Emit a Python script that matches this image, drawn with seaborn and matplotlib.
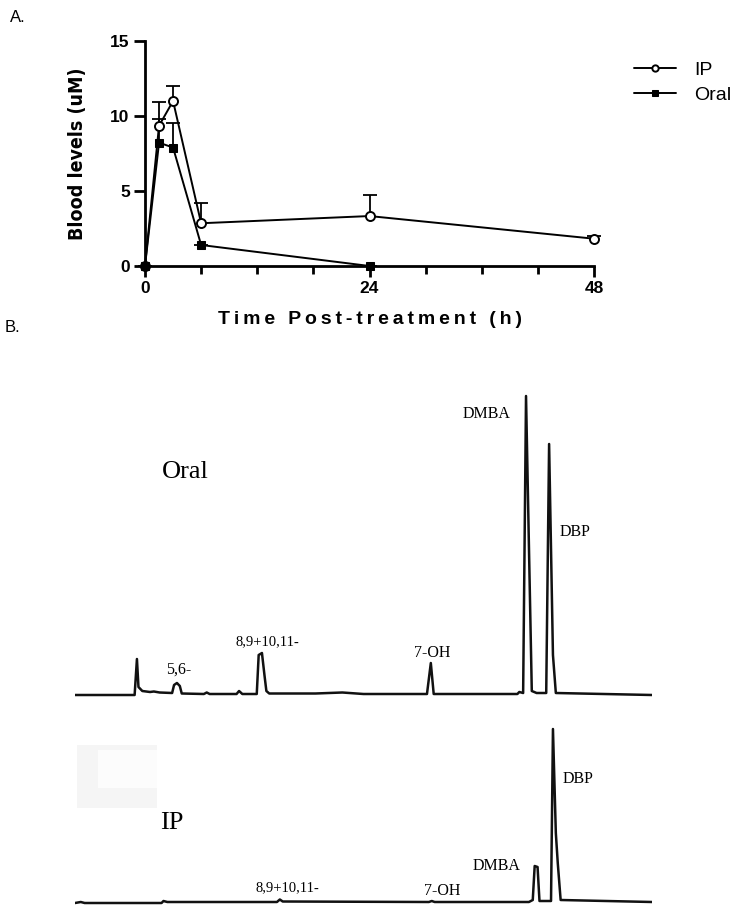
import numpy as np
import pandas as pd
import seaborn as sns
import matplotlib
matplotlib.use("Agg")
import matplotlib.pyplot as plt
from matplotlib import font_manager
from matplotlib.patches import Rectangle

# =====================================================================
# DATOS - Panel A (niveles en sangre, media + error)
# =====================================================================
tiempos = [0, 1.5, 3, 6, 24, 48]
ip_media = [0, 9.35, 11.0, 2.85, 3.33, 1.82]
ip_error = [0, 1.6, 1.0, 1.35, 1.4, 0.18]
oral_tiempos = [0, 1.5, 3, 6, 24]
oral_media = [0, 8.22, 7.9, 1.4, 0]
oral_error = [0, 1.6, 1.65, 0, 0]

# =====================================================================
# DATOS - Panel B (cromatogramas, vertices)
# =====================================================================
oral_t = [0, 3.1, 3.22, 3.3, 3.5, 3.9, 4.1, 4.4, 5.05, 5.15, 5.3, 5.45, 5.55,
          6.7, 6.85, 7.0, 8.4, 8.53, 8.7, 9.45, 9.55, 9.72, 9.85, 9.95, 10.1,
          12.5, 13.9, 15.0, 18.3, 18.5, 18.65, 23.0, 23.1, 23.3, 23.45, 23.6,
          23.75, 24.0, 24.5, 24.65, 24.85, 25.0, 30.0]
oral_senal = [0, 0, 36, 8, 4, 3, 3.5, 2.5, 2, 10, 12, 9, 1.5,
              1, 2.5, 1, 1, 4, 1, 1, 40, 42, 20, 4, 1.5,
              1.5, 2.5, 1, 1, 32, 1, 1, 3, 2, 299, 150,
              4, 2, 2, 251, 40, 2, 0]

ip_t = [0, 0.3, 0.5, 4.5, 4.6, 4.8, 10.5, 10.65, 10.8, 18.4, 18.55, 18.7,
        23.6, 23.8, 23.9, 24.05, 24.15, 24.75, 24.85, 25.0, 25.1, 25.25, 30.0]
ip_senal = [0, 1, 0, 0, 2, 1, 1, 3.5, 1.5, 1, 2, 1,
            1, 3, 37, 36, 2, 2, 174, 70, 40, 3, 1]

etiquetas_oral = ["5,6-", "8,9+10,11-", "7-OH", "DMBA", "DBP"]
pos_oral = [(5.41, 25), (9.98, 53), (18.56, 42), (21.42, 281), (26.0, 163)]
etiquetas_ip = ["8,9+10,11-", "7-OH", "DMBA", "DBP"]
pos_ip = [(11.02, 15), (19.08, 12), (21.94, 37), (26.15, 124)]

sns.set_theme(style="ticks")
plt.rcParams['font.family'] = ['Liberation Sans', 'DejaVu Sans']
plt.rcParams['text.color'] = 'black'
plt.rcParams['axes.labelcolor'] = 'black'
plt.rcParams['xtick.color'] = 'black'
plt.rcParams['ytick.color'] = 'black'

nombres = {f.name for f in font_manager.fontManager.ttflist}
fuente_angosta = 'Liberation Sans Narrow' if 'Liberation Sans Narrow' in nombres else 'DejaVu Sans'

W, H = 750, 916
fig = plt.figure(figsize=(W / 100, H / 100), dpi=100)

# =====================================================================
# PANEL A
# =====================================================================
ax = fig.add_axes([145 / W, 1 - 266 / H, 449 / W, 225 / H])

df_ip = pd.DataFrame({'t': tiempos, 'nivel': ip_media})
df_oral = pd.DataFrame({'t': oral_tiempos, 'nivel': oral_media})

# barras de error (solo hacia arriba)
for t, m, e in [(tiempos, ip_media, ip_error), (oral_tiempos, oral_media, oral_error)]:
    eb = ax.errorbar(t, m, yerr=[np.zeros(len(e)), e], fmt='none', ecolor='black',
                     elinewidth=1.3, capsize=5, capthick=1.3, zorder=2, clip_on=False)
    eb[1][0].set_visible(False)

sns.lineplot(data=df_ip, x='t', y='nivel', color='black', lw=1.4, marker='o',
             markersize=6.5, markerfacecolor='white', markeredgecolor='black',
             markeredgewidth=1.4, ax=ax, label='IP', zorder=3, clip_on=False)
sns.lineplot(data=df_oral, x='t', y='nivel', color='black', lw=1.4, marker='s',
             markersize=6, markerfacecolor='black', markeredgecolor='black',
             ax=ax, label='Oral', zorder=4, clip_on=False)

ax.set_xlim(0, 48)
ax.set_ylim(0, 15)
ax.set_xticks([0, 24, 48])
ax.set_xticks([6, 12, 18, 30, 36, 42], minor=True)
ax.set_yticks([0, 5, 10, 15])
sns.despine(ax=ax)
for s in ['left', 'bottom']:
    ax.spines[s].set_linewidth(2)
    ax.spines[s].set_color('black')
ax.tick_params(axis='both', which='major', length=8, width=2, color='black',
               labelcolor='black', labelsize=12.5, pad=3)
ax.tick_params(axis='x', which='minor', length=6, width=2, color='black')
for lab in ax.get_xticklabels() + ax.get_yticklabels():
    lab.set_fontweight('bold')

ax.set_xlabel('\u2009'.join('Time Post-treatment (h)'), fontsize=14, fontweight='bold',
              family=['Liberation Sans', 'DejaVu Sans'], color='black')
ax.xaxis.set_label_coords(0.5, -0.2)
ax.set_ylabel('Blood levels (uM)', fontsize=14, fontweight='bold',
              family=fuente_angosta, stretch='condensed', color='black')
ax.yaxis.set_label_coords(-0.13, 0.5)

manijas, textos = ax.get_legend_handles_labels()
orden = [textos.index('IP'), textos.index('Oral')]
ley = ax.legend([manijas[i] for i in orden], [textos[i] for i in orden],
                loc='upper left', bbox_to_anchor=(616 / W, 1 - 44 / H),
                bbox_transform=fig.transFigure, frameon=False, fontsize=14,
                handlelength=2.2, handletextpad=0.9, labelspacing=0.35,
                markerscale=0.7)
for t in ley.get_texts():
    t.set_color('black')

fig.text(10 / W, 1 - 18 / H, 'A.', fontsize=12, va='center', ha='left')
fig.text(5 / W, 1 - 327 / H, 'B.', fontsize=12, va='center', ha='left')

# =====================================================================
# PANEL B
# =====================================================================
serif = ['Liberation Serif', 'DejaVu Serif']

ax_oral = fig.add_axes([75 / W, 1 - 700 / H, 577 / W, 310 / H])
sns.lineplot(x=oral_t, y=oral_senal, color='#111111', lw=1.8, ax=ax_oral,
             estimator=None, sort=False)
ax_oral.set_xlim(0, 30)
ax_oral.set_ylim(-5, 305)
ax_oral.axis('off')
ax_oral.text(5.72, 223, 'Oral', fontsize=19, family=serif, ha='center', va='center')
for txt, (x, y) in zip(etiquetas_oral, pos_oral):
    tam = 10.5 if txt.startswith('8') else 11.5
    ax_oral.text(x, y, txt, fontsize=tam, family=serif, ha='center', va='center')

ax_ip = fig.add_axes([75 / W, 1 - 908 / H, 577 / W, 188 / H])
ax_ip.add_patch(Rectangle((0.1, 95), 4.15, 63, color='#f5f5f5', lw=0, zorder=0))
ax_ip.add_patch(Rectangle((1.2, 115), 3.05, 38, color='#fcfcfc', lw=0, zorder=0))
sns.lineplot(x=ip_t, y=ip_senal, color='#111111', lw=1.8, ax=ax_ip,
             estimator=None, sort=False)
ax_ip.set_xlim(0, 30)
ax_ip.set_ylim(-5, 183)
ax_ip.axis('off')
ax_ip.text(5.04, 80, 'IP', fontsize=19, family=serif, ha='center', va='center')
for txt, (x, y) in zip(etiquetas_ip, pos_ip):
    tam = 10.5 if txt.startswith('8') else 11.5
    ax_ip.text(x, y, txt, fontsize=tam, family=serif, ha='center', va='center')

fig.savefig('out.png', dpi=100)
